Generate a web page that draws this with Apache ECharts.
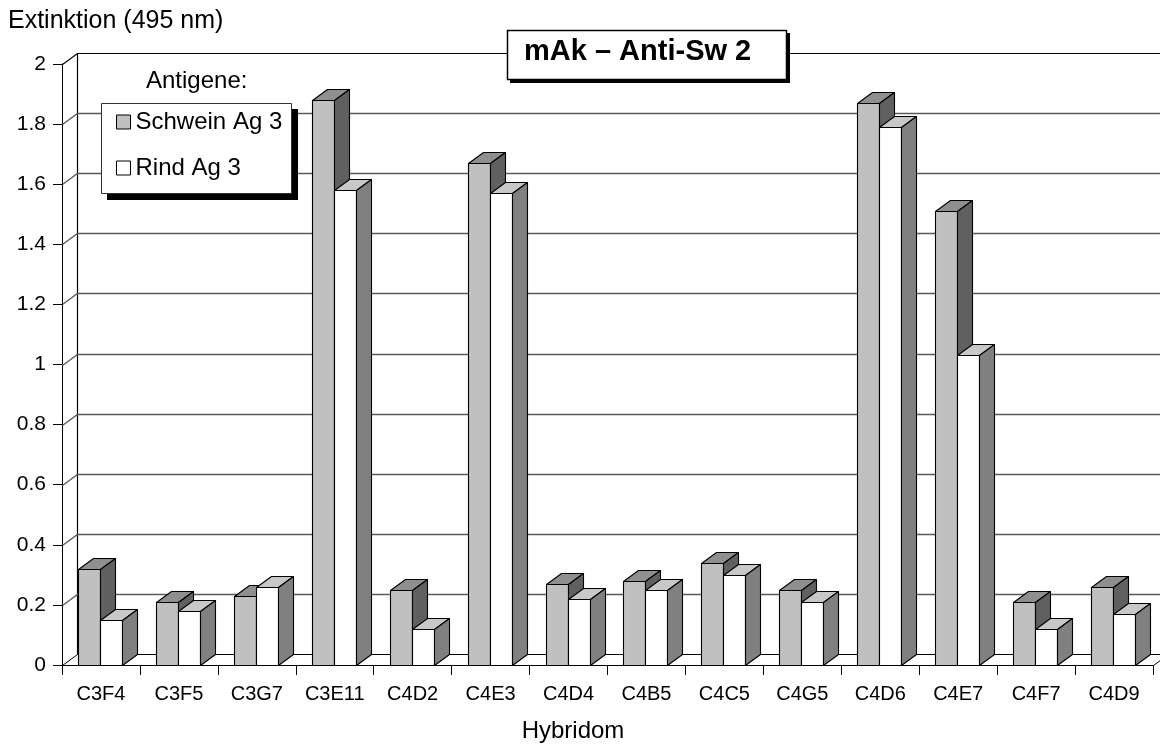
<!DOCTYPE html>
<html>
<head>
<meta charset="utf-8">
<title>mAk – Anti-Sw 2</title>
<script src="https://cdn.jsdelivr.net/npm/echarts@6/dist/echarts.min.js"></script>
<style>
  html, body { margin: 0; padding: 0; background: #ffffff; }
  #chart { width: 1160px; height: 746px; }
</style>
</head>
<body>
<div id="chart"></div>
<script>
// Hybridom clones tested against two antigens (ELISA, extinction at 495 nm)
const categories = ['C3F4', 'C3F5', 'C3G7', 'C3E11', 'C4D2', 'C4E3', 'C4D4',
                    'C4B5', 'C4C5', 'C4G5', 'C4D6', 'C4E7', 'C4F7', 'C4D9'];
const schweinAg3 = [0.32, 0.21, 0.23, 1.88, 0.25, 1.67, 0.27, 0.28, 0.34, 0.25, 1.87, 1.51, 0.21, 0.26];
const rindAg3    = [0.15, 0.18, 0.26, 1.58, 0.12, 1.57, 0.22, 0.25, 0.30, 0.21, 1.79, 1.03, 0.12, 0.17];
const valueTicks = [0, 0.2, 0.4, 0.6, 0.8, 1, 1.2, 1.4, 1.6, 1.8, 2];
const seriesNames = ['Schwein Ag 3', 'Rind Ag 3'];

const FONT = '"Liberation Sans", Arial, Helvetica, sans-serif';
const DX = 15;           // oblique depth offset, horizontal
const DY = -11;          // oblique depth offset, vertical
const BAR_SHARE = 0.282; // bar width as share of a category band

// front / top / right-side shading for each series
const faces = [
  { front: '#c0c0c0', top: '#8f8f8f', side: '#606060' },
  { front: '#ffffff', top: '#c8c8c8', side: '#808080' }
];

const crisp = v => Math.round(v) + 0.5;

// back wall, left wall and floor with the value grid lines
function renderWalls(params, api) {
  const cs = params.coordSys;
  const v = api.value(1);
  const y = crisp(api.coord([0, v])[1]);
  const x0 = crisp(cs.x);
  const x1 = crisp(cs.x + cs.width);
  const children = [];
  if (v === 0) {
    children.push({
      type: 'polygon',
      shape: { points: [[x0, y], [x1, y], [x1 + DX, y + DY], [x0 + DX, y + DY]] },
      style: { fill: '#ffffff', stroke: '#000000', lineWidth: 1 }
    });
  } else {
    const top = v === valueTicks[valueTicks.length - 1];
    children.push({
      type: 'polyline',
      shape: { points: [[x0, y], [x0 + DX, y + DY], [x1 + DX + 40, y + DY]] },
      style: { fill: null, stroke: top ? '#000000' : '#5a5a5a', lineWidth: top ? 1.2 : 1.3 }
    });
  }
  if (params.dataIndex === 0) {
    const yTop = crisp(api.coord([0, valueTicks[valueTicks.length - 1]])[1]);
    children.push({
      type: 'line',
      shape: { x1: x0 + DX, y1: y + DY, x2: x0 + DX, y2: yTop + DY },
      style: { stroke: '#000000', lineWidth: 1.2 }
    });
  }
  return { type: 'group', children };
}

// one 3-D column: front face, top face, right side face
function makeBarRenderer(k) {
  return function (params, api) {
    const ci = api.value(0);
    const v = api.value(1);
    const base = api.coord([ci, 0]);
    const top = api.coord([ci, v]);
    const band = api.size([1, 0])[0];
    const w = Math.round(band * BAR_SHARE);
    const xl = Math.round(k === 0 ? base[0] - w : base[0]) - 0.5;
    const yt = Math.round(top[1]) + 0.5;
    const yb = Math.round(base[1]) + 0.5;
    const c = faces[k];
    const edge = { stroke: '#000000', lineWidth: 1.1, lineJoin: 'round' };
    return {
      type: 'group',
      children: [
        { type: 'polygon',
          shape: { points: [[xl, yt], [xl + w, yt], [xl + w, yb], [xl, yb]] },
          style: Object.assign({ fill: c.front }, edge) },
        { type: 'polygon',
          shape: { points: [[xl, yt], [xl + w, yt], [xl + w + DX, yt + DY], [xl + DX, yt + DY]] },
          style: Object.assign({ fill: c.top }, edge) },
        { type: 'polygon',
          shape: { points: [[xl + w, yt], [xl + w + DX, yt + DY], [xl + w + DX, yb + DY], [xl + w, yb]] },
          style: Object.assign({ fill: c.side }, edge) }
      ]
    };
  };
}

const chart = echarts.init(document.getElementById('chart'), null, { renderer: 'canvas' });

chart.setOption({
  backgroundColor: '#ffffff',
  animation: false,
  textStyle: { fontFamily: FONT, color: '#000000' },
  grid: { left: 62, right: 7, top: 64, bottom: 81, containLabel: false },
  xAxis: {
    type: 'category',
    data: categories,
    axisLine: { show: true, lineStyle: { color: '#000000', width: 1 } },
    axisTick: { show: true, length: 10, alignWithLabel: false, lineStyle: { color: '#000000' } },
    axisLabel: { color: '#000000', fontFamily: FONT, fontSize: 20, margin: 19, interval: 0 },
    splitLine: { show: false }
  },
  yAxis: {
    type: 'value',
    min: 0,
    max: 2,
    interval: 0.2,
    axisLine: { show: true, lineStyle: { color: '#000000', width: 1 } },
    axisTick: { show: true, length: 9, lineStyle: { color: '#000000' } },
    axisLabel: { color: '#000000', fontFamily: FONT, fontSize: 21, margin: 16 },
    splitLine: { show: false }
  },
  legend: {
    orient: 'vertical',
    left: 116,
    top: 110,
    padding: 0,
    itemGap: 22,
    itemWidth: 14,
    itemHeight: 14,
    icon: 'rect',
    z: 20,
    textStyle: { color: '#000000', fontFamily: FONT, fontSize: 24 },
    data: [
      { name: seriesNames[0], itemStyle: { color: faces[0].front, borderColor: '#000000', borderWidth: 1 } },
      { name: seriesNames[1], itemStyle: { color: faces[1].front, borderColor: '#000000', borderWidth: 1 } }
    ]
  },
  graphic: [
    // axis captions
    { type: 'text', left: 8, top: 9, z: 20,
      style: { text: 'Extinktion (495 nm)', font: '25px ' + FONT, fill: '#000000' } },
    { type: 'text', x: 573, y: 731, z: 20,
      style: { text: 'Hybridom', font: '24px ' + FONT, fill: '#000000',
               align: 'center', verticalAlign: 'middle' } },
    // legend frame with drop shadow and caption
    { type: 'rect', z: 10, shape: { x: 107, y: 109, width: 191, height: 91 }, style: { fill: '#000000' } },
    { type: 'rect', z: 11, shape: { x: 101.5, y: 103.5, width: 190, height: 90 },
      style: { fill: '#ffffff', stroke: '#333333', lineWidth: 1 } },
    { type: 'text', left: 146, top: 69, z: 20,
      style: { text: 'Antigene:', font: '24px ' + FONT, fill: '#000000' } },
    // chart title box
    { type: 'rect', z: 10, shape: { x: 510, y: 33, width: 280, height: 50 }, style: { fill: '#000000' } },
    { type: 'rect', z: 11, shape: { x: 507.5, y: 30.5, width: 279, height: 49 },
      style: { fill: '#ffffff', stroke: '#000000', lineWidth: 1.5 } },
    { type: 'text', x: 524, y: 52, z: 20,
      style: { text: 'mAk \u2013 Anti-Sw 2', font: 'bold 29px ' + FONT, fill: '#000000',
               verticalAlign: 'middle' } }
  ],
  series: [
    {
      type: 'custom',
      name: 'walls',
      coordinateSystem: 'cartesian2d',
      clip: false,
      silent: true,
      z: 1,
      renderItem: renderWalls,
      data: valueTicks.map(v => [0, v])
    },
    {
      type: 'custom',
      name: seriesNames[0],
      coordinateSystem: 'cartesian2d',
      clip: false,
      z: 3,
      itemStyle: { color: faces[0].front },
      renderItem: makeBarRenderer(0),
      data: categories.map((c, i) => [i, schweinAg3[i]])
    },
    {
      type: 'custom',
      name: seriesNames[1],
      coordinateSystem: 'cartesian2d',
      clip: false,
      z: 4,
      itemStyle: { color: faces[1].front },
      renderItem: makeBarRenderer(1),
      data: categories.map((c, i) => [i, rindAg3[i]])
    }
  ]
});
</script>
</body>
</html>
